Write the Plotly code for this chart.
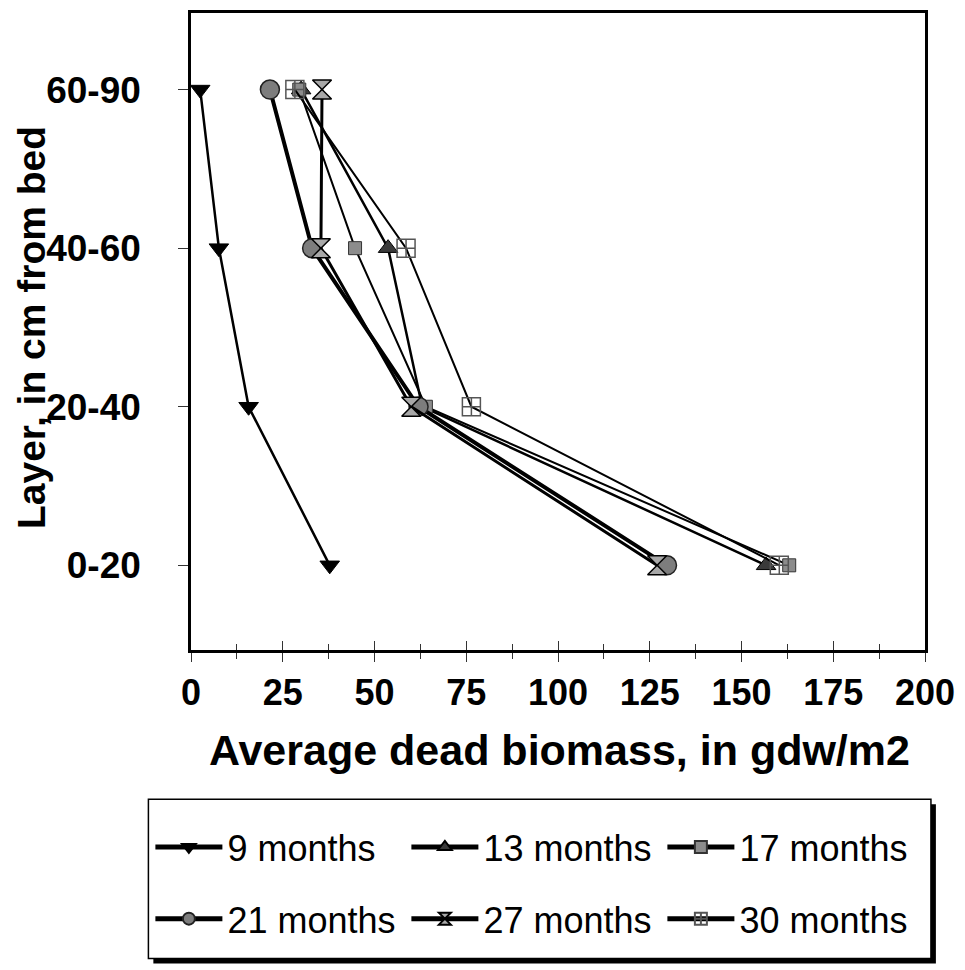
import plotly.graph_objects as go

# ---------------- data ----------------
layers = ["0-20", "20-40", "40-60", "60-90"]
series_names = ["9 months", "13 months", "17 months", "21 months", "27 months", "30 months"]
m9 = [37.8, 15.7, 7.6, 2.5]
m13 = [156.7, 63.0, 53.7, 30.0]
m17 = [163.0, 64.0, 44.7, 29.5]
m21 = [129.7, 62.0, 33.0, 21.5]
m27 = [127.0, 60.0, 35.4, 35.7]
m30 = [160.3, 76.4, 58.6, 28.3]
x_ticks = [0, 25, 50, 75, 100, 125, 150, 175, 200]

values = [m9, m13, m17, m21, m27, m30]

# ---------------- styles ----------------
styles = [
    dict(symbol="triangle-down", size=17, color="#000000", lc="#000000", lw=1, width=2.5),
    dict(symbol="triangle-up", size=17, color="#3a3a3a", lc="#000000", lw=1, width=2.5),
    dict(symbol="square", size=13, color="#8c8c8c", lc="#333333", lw=1, width=2),
    dict(symbol="circle", size=19, color="#7d7d7d", lc="#222222", lw=1.5, width=4),
    dict(symbol="hourglass", size=19, color="#a8a8a8", lc="#000000", lw=1.5, width=3),
    dict(symbol="square-cross-open", size=18, color="#555555", lc="#555555", lw=1.5, width=2),
]

W, H = 965, 970
L, R, T, B = 191, 33, 10, 320
PW = W - L - R
PH = H - T - B


def px(xp):
    return (xp - L) / PW


def py(yp):
    return (T + PH - yp) / PH


FONT = "Arial, Liberation Sans, sans-serif"

fig = go.Figure()
for i, (name, vals, st) in enumerate(zip(series_names, values, styles)):
    fig.add_trace(go.Scatter(
        x=vals, y=layers, name=name, mode="lines+markers",
        line=dict(color="black", width=st["width"]),
        marker=dict(symbol=st["symbol"], size=st["size"], color=st["color"],
                    line=dict(color=st["lc"], width=st["lw"])),
        legend="legend" if i < 3 else "legend2",
    ))

# dummy trace so the overlaid x-axis (inside ticks) is drawn
fig.add_trace(go.Scatter(x=[0], y=[layers[0]], xaxis="x2", mode="markers",
                         marker=dict(opacity=0), showlegend=False, hoverinfo="skip"))

legend_common = dict(
    orientation="h", xanchor="left", yanchor="middle",
    font=dict(size=36, family=FONT), itemwidth=67, entrywidth=174,
    bgcolor="rgba(0,0,0,0)", borderwidth=0, itemsizing="constant",
)

fig.update_layout(
    width=W, height=H,
    margin=dict(l=L, r=R, t=T, b=B, pad=0),
    paper_bgcolor="white", plot_bgcolor="white",
    font=dict(family=FONT, color="black"),
    showlegend=True,
    xaxis=dict(
        range=[0, 200], tickvals=x_ticks, ticktext=[str(v) for v in x_ticks],
        showgrid=False, zeroline=False, showline=True, linecolor="black", linewidth=2.5,
        mirror=True, ticks="outside", ticklen=9, tickwidth=1.2, tickcolor="#333",
        minor=dict(dtick=12.5, tick0=0, ticks="outside", ticklen=6, tickwidth=1.2, tickcolor="#333"),
        tickfont=dict(size=36, family=FONT, weight="bold"),
        ticklabelstandoff=0,
    ),
    xaxis2=dict(
        overlaying="x", matches="x", range=[0, 200], tickvals=x_ticks,
        showticklabels=False, showgrid=False, zeroline=False, showline=False,
        ticks="inside", ticklen=9, tickwidth=1.2, tickcolor="#333",
        minor=dict(dtick=12.5, tick0=0, ticks="inside", ticklen=6, tickwidth=1.2, tickcolor="#333"),
        side="bottom", anchor="y",
    ),
    yaxis=dict(
        type="category", categoryorder="array", categoryarray=layers,
        range=[-0.534, 3.483],
        showgrid=False, zeroline=False, showline=True, linecolor="black", linewidth=2.5,
        mirror=True, ticks="outside", ticklen=10, tickwidth=1.2, tickcolor="#333",
        tickfont=dict(size=37, family=FONT, weight="bold"),
        ticklabelstandoff=30,
    ),
    legend=dict(x=px(150), y=py(848), **legend_common),
    legend2=dict(x=px(150), y=py(920), **legend_common),
    annotations=[
        dict(text="Average dead biomass, in gdw/m2", xref="paper", yref="paper",
             x=px(563), y=py(750), xanchor="center", yanchor="middle", showarrow=False,
             font=dict(size=43, family=FONT, weight="bold")),
        dict(text="Layer, in cm from bed", xref="paper", yref="paper",
             x=px(30), y=py(326), xanchor="center", yanchor="middle", showarrow=False,
             textangle=-90, font=dict(size=39, family=FONT, weight="bold")),
    ],
    shapes=[
        dict(type="rect", xref="paper", yref="paper", x0=px(153), x1=px(943), y0=py(805), y1=py(965),
             fillcolor="black", line=dict(width=0)),
        dict(type="rect", xref="paper", yref="paper", x0=px(148), x1=px(938), y0=py(800), y1=py(960),
             fillcolor="white", line=dict(color="black", width=1.5)),
    ],
)

fig.write_html("out.html")
